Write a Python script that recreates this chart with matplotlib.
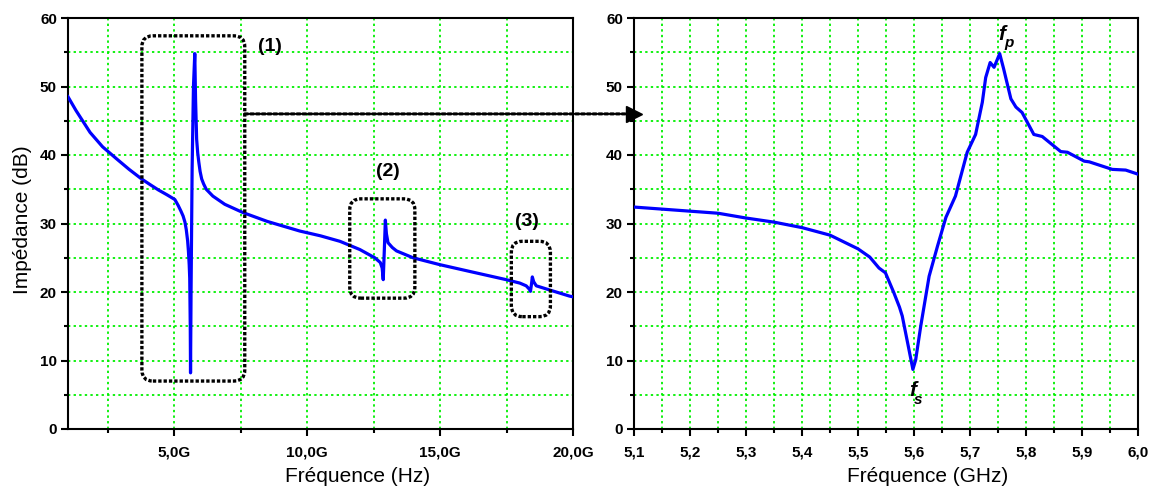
import matplotlib
matplotlib.use("Agg")
import matplotlib.pyplot as plt
from matplotlib.patches import FancyBboxPatch, ConnectionPatch
from matplotlib.ticker import MultipleLocator, FixedLocator

plt.rcParams['font.family'] = ['Liberation Sans', 'DejaVu Sans']

# ---------------- data: wide band (GHz, dB) ----------------
freq_wide = [1.0, 1.3, 1.83, 2.3, 2.84, 3.3, 3.77, 4.08, 4.4, 4.72, 5.02, 5.15,
             5.25, 5.33, 5.40, 5.45, 5.50, 5.53, 5.56, 5.58, 5.60, 5.61, 5.63,
             5.67, 5.72, 5.77, 5.80, 5.84, 5.88, 5.92, 5.97, 6.03, 6.1, 6.2,
             6.3, 6.45, 6.9, 7.58, 8.5, 9.72, 10.5, 11.23,
             11.98, 12.54, 12.75, 12.82, 12.86, 12.90, 12.94, 12.98, 13.04,
             13.2, 13.36, 13.98, 14.98, 16.23, 17.49, 18.0, 18.24, 18.36, 18.40,
             18.44, 18.47, 18.52, 18.62, 19.2, 19.87, 20.0]
imp_wide = [48.5, 46.5, 43.3, 41.2, 39.4, 37.9, 36.5, 35.7, 34.9, 34.2, 33.5, 32.6,
            31.8, 31.1, 30.2, 29.1, 27.5, 26.0, 24.0, 22.0, 15.0, 8.2, 20.0,
            38.0, 50.0, 54.8, 48.0, 42.3, 40.3, 39.0, 37.6, 36.5, 35.8, 35.0,
            34.6, 34.0, 32.8, 31.6, 30.3, 28.9, 28.2, 27.4,
            26.2, 25.0, 24.3, 23.5, 21.8, 26.0, 30.5, 28.5, 27.2,
            26.5, 26.0, 25.0, 24.0, 22.9, 21.8, 21.3, 20.9, 20.4, 20.1,
            21.2, 22.2, 21.5, 20.9, 20.2, 19.4, 19.3]

# ---------------- data: zoom around resonance (GHz, dB) ----------------
freq_zoom = [5.10, 5.15, 5.20, 5.25, 5.30, 5.35, 5.40, 5.45, 5.50, 5.521, 5.5375,
             5.549, 5.564, 5.574, 5.579, 5.591, 5.598, 5.603, 5.612, 5.627, 5.642,
             5.657, 5.674, 5.695, 5.710, 5.722, 5.728, 5.736, 5.743, 5.753, 5.760,
             5.773, 5.782, 5.793, 5.814, 5.829, 5.862, 5.874, 5.904, 5.913, 5.954,
             5.978, 6.00]
imp_zoom = [32.4, 32.1, 31.8, 31.5, 30.8, 30.2, 29.4, 28.3, 26.3, 25.1, 23.5,
            22.8, 19.9, 17.8, 16.5, 11.6, 8.7, 10.1, 15.0, 22.3, 26.7,
            30.9, 34.0, 40.4, 43.0, 47.7, 51.3, 53.5, 52.8, 54.8, 52.6,
            48.2, 47.0, 46.2, 43.0, 42.7, 40.5, 40.4, 39.1, 39.0, 37.9,
            37.8, 37.2]

# annotation boxes on the wide-band plot: (f_left, f_right, dB_bottom, dB_top)
box_labels = ["(1)", "(2)", "(3)"]
box_f0 = [3.78, 11.6, 17.68]
box_f1 = [7.65, 14.05, 19.15]
box_y0 = [7.0, 19.1, 16.4]
box_y1 = [57.4, 33.6, 27.4]
label_f = [8.6, 13.03, 18.26]
label_y = [55.9, 37.6, 30.3]

x_ticks_wide = [5, 10, 15, 20]
x_ticklabels_wide = ["5,0G", "10,0G", "15,0G", "20,0G"]
x_ticks_zoom = [5.1, 5.2, 5.3, 5.4, 5.5, 5.6, 5.7, 5.8, 5.9, 6.0]
x_ticklabels_zoom = ["5,1", "5,2", "5,3", "5,4", "5,5", "5,6", "5,7", "5,8", "5,9", "6,0"]

W, H = 1156, 492
fig = plt.figure(figsize=(W / 100, H / 100), dpi=100)
axL = fig.add_axes([68 / W, 1 - 429 / H, 505 / W, 411 / H])
axR = fig.add_axes([634 / W, 1 - 429 / H, 504 / W, 411 / H])

GRID_COL = '#00f000'
grid_kw = dict(color=GRID_COL, linestyle=(0, (1.3, 1.8)), linewidth=1.3)

def style(ax):
    for s in ax.spines.values():
        s.set_linewidth(1.5)
    ax.tick_params(which='major', direction='out', length=5, width=1.5,
                   top=False, right=False, labelsize=11)
    ax.tick_params(axis='x', which='major', pad=7)
    ax.tick_params(axis='y', which='major', pad=3)
    ax.tick_params(which='minor', direction='out', length=3, width=1.5,
                   top=False, right=False)
    ax.set_ylim(0, 60)
    ax.yaxis.set_major_locator(MultipleLocator(10))
    ax.yaxis.set_minor_locator(MultipleLocator(5))
    ax.grid(True, which='both', **grid_kw)
    ax.set_axisbelow(True)
    for lab in ax.get_xticklabels() + ax.get_yticklabels():
        lab.set_fontweight('bold')

# ---------------- left panel ----------------
axL.plot(freq_wide, imp_wide, color='#0000ff', lw=2.3, zorder=3)
axL.set_xlim(1, 20)
axL.xaxis.set_major_locator(FixedLocator(x_ticks_wide))
axL.set_xticklabels(x_ticklabels_wide)
axL.xaxis.set_minor_locator(FixedLocator([2.5, 7.5, 12.5, 17.5]))
style(axL)
axL.set_xlabel("Fréquence (Hz)", fontsize=15)
axL.xaxis.set_label_coords(0.574, -0.092)
axL.set_ylabel("Impédance (dB)", fontsize=15)
axL.yaxis.set_label_coords(-0.071, 0.51)

# dotted rounded boxes (data coords, rounding ~11 px)
px_per_x = 505 / 19.0
px_per_y = 411 / 60.0
r_px = 11
for f0, f1, y0, y1 in zip(box_f0, box_f1, box_y0, box_y1):
    patch = FancyBboxPatch((f0, y0), f1 - f0, y1 - y0,
                           boxstyle=f"round,pad=0,rounding_size={r_px / px_per_x}",
                           mutation_aspect=px_per_x / px_per_y,
                           fill=False, edgecolor='black', linewidth=2.4,
                           linestyle=(0, (1, 0.6)), zorder=4)
    axL.add_patch(patch)
for lab, lf, ly in zip(box_labels, label_f, label_y):
    axL.text(lf, ly, lab, fontsize=14, fontweight='bold', ha='center',
             va='center', zorder=5)

# dotted arrow from box (1) to the zoom panel
con = ConnectionPatch(xyA=(box_f1[0], 46.0), coordsA=axL.transData,
                      xyB=(5.09, 46.0), coordsB=axR.transData,
                      color='black', linewidth=2.2, linestyle=(0, (1, 0.9)),
                      arrowstyle='-', zorder=6)
fig.add_artist(con)
axR.plot([5.1], [46.0], marker='>', markersize=11, color='black',
         clip_on=False, zorder=7)

# ---------------- right panel ----------------
axR.plot(freq_zoom, imp_zoom, color='#0000ff', lw=2.3, zorder=3)
axR.set_xlim(5.1, 6.0)
axR.xaxis.set_major_locator(FixedLocator(x_ticks_zoom))
axR.set_xticklabels(x_ticklabels_zoom)
axR.xaxis.set_minor_locator(MultipleLocator(0.05))
style(axR)
axR.set_xlabel("Fréquence (GHz)", fontsize=15)
axR.xaxis.set_label_coords(0.582, -0.092)

# f_p and f_s labels
axR.text(5.757, 57.6, "f", fontsize=15, fontweight='bold', fontstyle='italic',
         ha='center', va='center')
axR.text(5.769, 56.3, "p", fontsize=11, fontweight='bold', fontstyle='italic',
         ha='center', va='center')
axR.text(5.598, 5.6, "f", fontsize=15, fontweight='bold', fontstyle='italic',
         ha='center', va='center')
axR.text(5.608, 4.3, "s", fontsize=11, fontweight='bold', fontstyle='italic',
         ha='center', va='center')

fig.savefig("out.png", dpi=100)
